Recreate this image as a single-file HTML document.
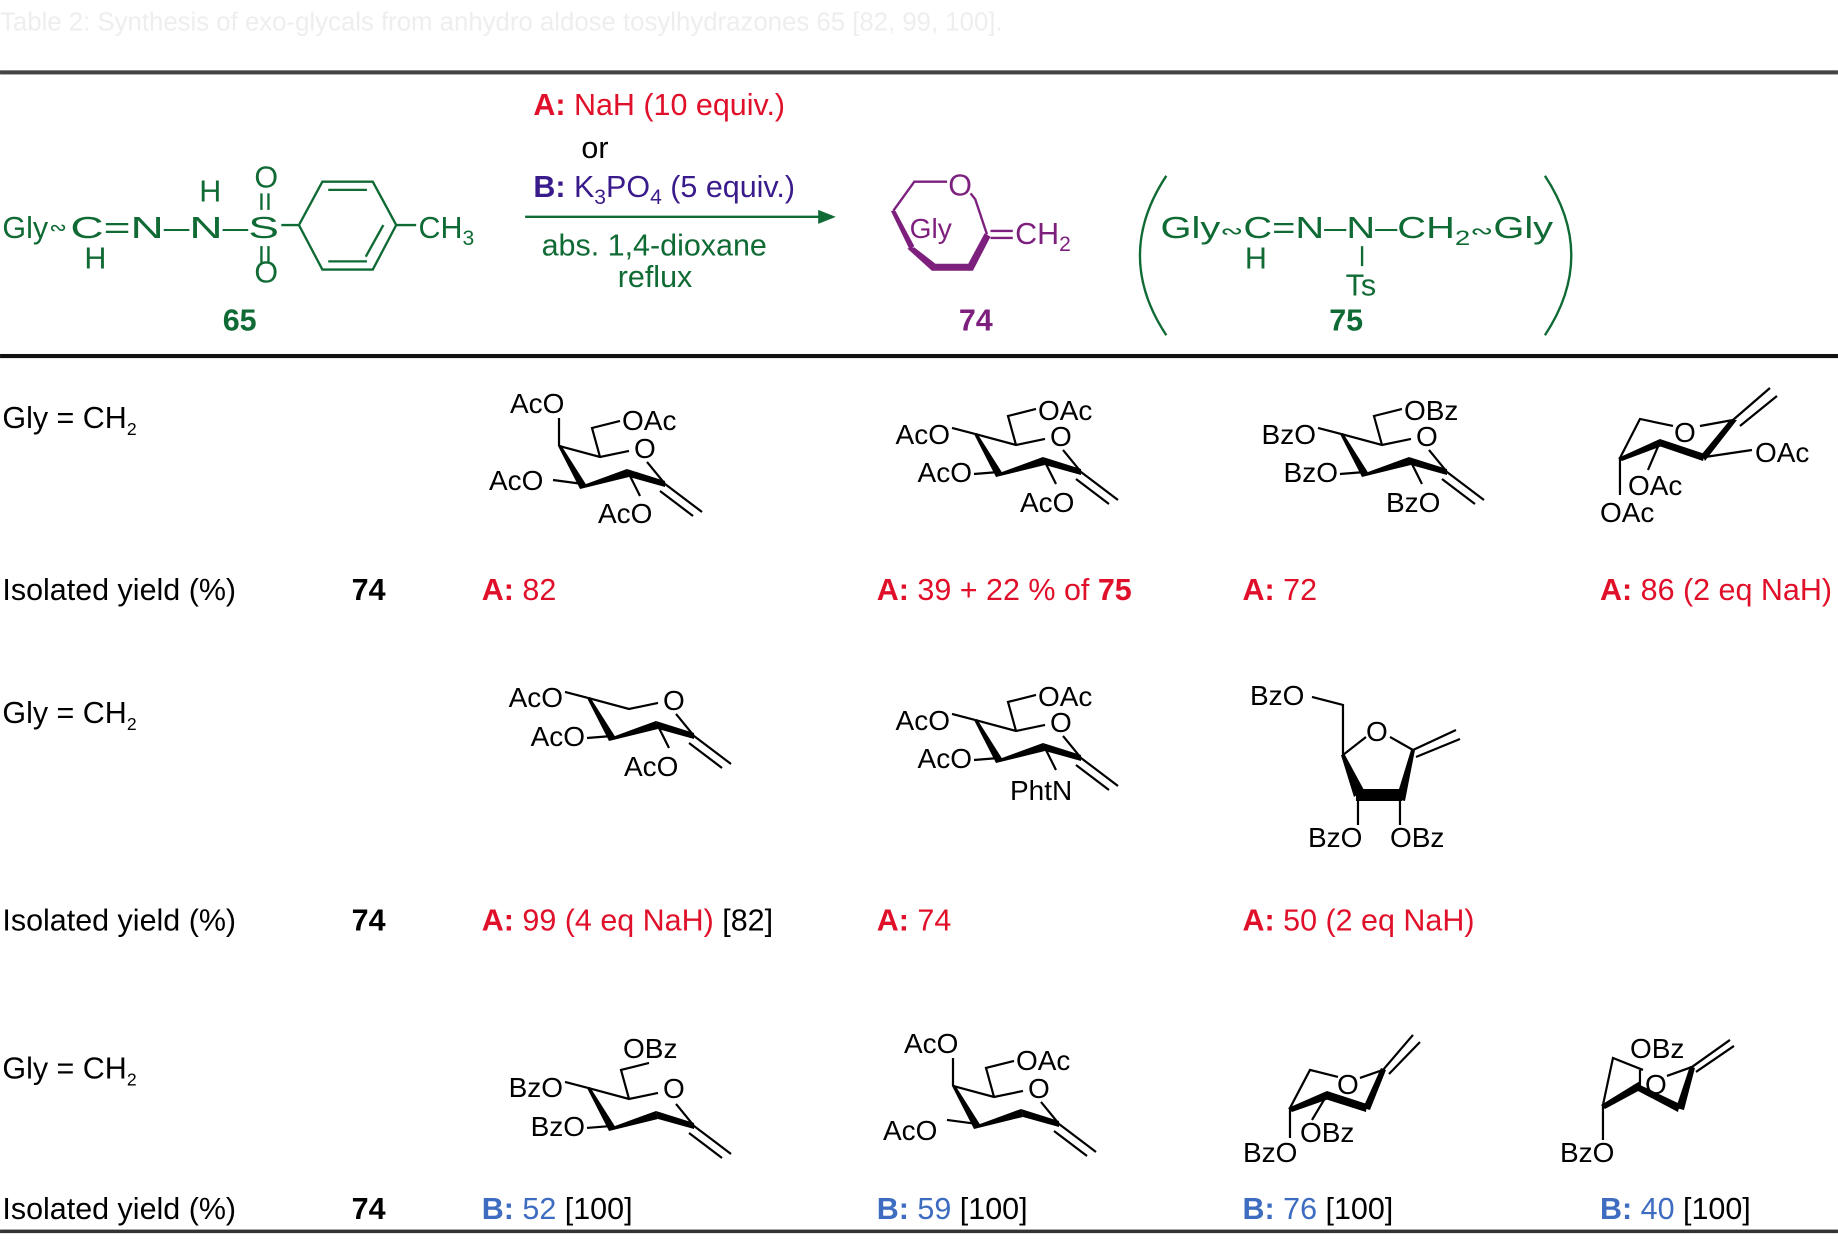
<!DOCTYPE html>
<html><head><meta charset="utf-8"><style>
body{margin:0;background:#fff}
svg{display:block}
text{font-family:"Liberation Sans",sans-serif}
.g{fill:#0f6a34}.r{fill:#e0102a}.p{fill:#3a1b8c}.m{fill:#7d1f7d}.bl{fill:#3e6cc0}
.s text{font-size:28px;fill:#000}
.t{font-size:26px;fill:#000}
</style></head><body>
<svg width="1838" height="1244" viewBox="0 0 1568 1061.3" xmlns="http://www.w3.org/2000/svg">
<defs>
<g id="chair" fill="none" stroke="#000" stroke-width="2.2">
  <path d="M0,0 L41,11 L70,5 M88,16 L106,38"/>
  <path d="M-1,0 L2,-1 L28,40 L21,43 Z" fill="#000" stroke="none"/>
  <path d="M21,43 L27,38 L68,23 L70,31 Z" fill="#000" stroke="none"/>
  <path d="M68,23 L106,35 L106,41 L70,31 Z" fill="#000" stroke="none"/>
  <path d="M106,38 L143,66 M101,45 L134,70"/>
</g>
</defs>
<text x="0" y="26" style="font-size:22px;fill:#eee">Table 2: Synthesis of exo-glycals from anhydro aldose tosylhydrazones 65 [82, 99, 100].</text>
<rect x="0" y="60" width="1568" height="3.5" fill="#444"/>
<rect x="0" y="302" width="1568" height="3.5" fill="#111"/>
<rect x="0" y="1049" width="1568" height="3" fill="#333"/>

<!-- header -->
<g style="font-size:26px">
<text x="2" y="203" class="g">Gly</text>
<text x="42" y="200" class="g" style="font-size:18px">∾</text>
<text x="60" y="203" class="g" textLength="178" lengthAdjust="spacingAndGlyphs">C=N–N–S</text>
<text x="72" y="229" class="g">H</text>
<text x="170" y="172" class="g">H</text>
<text x="217" y="160" class="g">O</text>
<text x="217" y="241" class="g">O</text>
<text x="357" y="203" class="g">CH<tspan style="font-size:18px" dy="6">3</tspan></text>
</g>
<g stroke="#0f6a34" stroke-width="2" fill="none">
<path d="M223,165 v14 M229,165 v14 M223,210 v14 M229,210 v14"/>
<path d="M240,192 H255 L275,155 H318 L338,192 L318,230 H275 L255,192 M338,192 H355"/>
<path d="M280,162 H313 M280,223 H313 M327,192 L312,219"/>
<path d="M448,185 H700"/>
</g>
<polygon points="698,179 713,185 698,191" fill="#0f6a34"/>
<text x="190" y="282" class="g" style="font-size:26px;font-weight:bold">65</text>
<text x="455" y="98" class="r" style="font-size:26px"><tspan font-weight="bold">A:</tspan> NaH (10 equiv.)</text>
<text x="496" y="135" style="font-size:26px">or</text>
<text x="455" y="168" class="p" style="font-size:26px"><tspan font-weight="bold">B:</tspan> K<tspan style="font-size:18px" dy="6">3</tspan><tspan dy="-6">PO</tspan><tspan style="font-size:18px" dy="6">4</tspan><tspan dy="-6"> (5 equiv.)</tspan></text>
<text x="462" y="218" class="g" style="font-size:26px">abs. 1,4-dioxane</text>
<text x="527" y="245" class="g" style="font-size:26px">reflux</text>
<!-- 74 -->
<g stroke="#7d1f7d" stroke-width="2" fill="none">
<path d="M808,155 H780 L762,180 M842,200 L832,170 L828,165"/>
<path d="M845,197 H864 M845,203 H864"/>
</g>
<path d="M760,180 L764,180 L780,210 L776,213 Z M774,212 L780,211 L798,225 H826 L840,199 L845,202 L830,231 H795 Z" fill="#7d1f7d"/>
<text x="809" y="167" class="m" style="font-size:26px">O</text>
<text x="776" y="203" class="m" style="font-size:24px">Gly</text>
<text x="866" y="208" class="m" style="font-size:26px">CH<tspan style="font-size:18px" dy="6">2</tspan></text>
<text x="818" y="282" class="m" style="font-size:26px;font-weight:bold">74</text>
<!-- 75 -->
<path d="M995,150 Q950,218 995,286 M1318,150 Q1363,218 1318,286" stroke="#0f6a34" stroke-width="2" fill="none"/>
<text x="990" y="203" class="g" style="font-size:26px" textLength="335" lengthAdjust="spacingAndGlyphs">Gly<tspan style="font-size:18px">∾</tspan>C=N–N–CH<tspan style="font-size:18px" dy="6">2</tspan><tspan style="font-size:18px" dy="-6">∾</tspan>Gly</text>
<text x="1062" y="229" class="g" style="font-size:26px">H</text>
<text x="1148" y="252" class="g" style="font-size:26px">Ts</text>
<path d="M1162,210 v17" stroke="#0f6a34" stroke-width="2"/>
<text x="1134" y="282" class="g" style="font-size:26px;font-weight:bold">75</text>

<!-- row labels -->
<g class="t">
<text x="2" y="365">Gly = CH<tspan style="font-size:15px" dy="6">2</tspan></text>
<text x="2" y="617">Gly = CH<tspan style="font-size:15px" dy="6">2</tspan></text>
<text x="2" y="920">Gly = CH<tspan style="font-size:15px" dy="6">2</tspan></text>
<text x="2" y="512">Isolated yield (%)</text>
<text x="2" y="794">Isolated yield (%)</text>
<text x="2" y="1040">Isolated yield (%)</text>
<text x="300" y="512" font-weight="bold">74</text>
<text x="300" y="794" font-weight="bold">74</text>
<text x="300" y="1040" font-weight="bold">74</text>
</g>
<g class="t">
<text x="411" y="512" class="r"><tspan font-weight="bold">A:</tspan> 82</text>
<text x="748" y="512" class="r"><tspan font-weight="bold">A:</tspan> 39 + 22 % of <tspan font-weight="bold">75</tspan></text>
<text x="1060" y="512" class="r"><tspan font-weight="bold">A:</tspan> 72</text>
<text x="1365" y="512" class="r"><tspan font-weight="bold">A:</tspan> 86 (2 eq NaH)</text>
<text x="411" y="794" class="r"><tspan font-weight="bold">A:</tspan> 99 (4 eq NaH) <tspan fill="#000">[82]</tspan></text>
<text x="748" y="794" class="r"><tspan font-weight="bold">A:</tspan> 74</text>
<text x="1060" y="794" class="r"><tspan font-weight="bold">A:</tspan> 50 (2 eq NaH)</text>
<text x="411" y="1040" class="bl"><tspan font-weight="bold">B:</tspan> 52 <tspan fill="#000">[100]</tspan></text>
<text x="748" y="1040" class="bl"><tspan font-weight="bold">B:</tspan> 59 <tspan fill="#000">[100]</tspan></text>
<text x="1060" y="1040" class="bl"><tspan font-weight="bold">B:</tspan> 76 <tspan fill="#000">[100]</tspan></text>
<text x="1365" y="1040" class="bl"><tspan font-weight="bold">B:</tspan> 40 <tspan fill="#000">[100]</tspan></text>
</g>

<!-- structures in 1838 coordinates -->
<g class="s" transform="scale(0.85310)">
<g stroke="#000" stroke-width="2.2" fill="none">
<!-- r1c1 galacto -->
<use href="#chair" x="559" y="446"/>
<path d="M559,446 V418 M600,457 L592,428 L620,421 M583,484 L553,480 M628,472 L640,496"/>
<!-- r1c2 gluco -->
<use href="#chair" x="975" y="434"/>
<path d="M975,434 L952,428 M999,472 L974,474 M1016,445 L1008,416 L1036,409 M1044,460 L1056,484"/>
<!-- r1c3 -->
<use href="#chair" x="1341" y="434"/>
<path d="M1341,434 L1318,428 M1365,472 L1340,474 M1382,445 L1374,416 L1402,409 M1410,460 L1422,484"/>
<!-- r2c1 -->
<use href="#chair" x="588" y="698"/>
<path d="M588,698 L565,692 M612,736 L587,738 M657,724 L669,748"/>
<!-- r2c2 -->
<use href="#chair" x="975" y="720"/>
<path d="M975,720 L952,714 M999,758 L974,760 M1016,731 L1008,702 L1036,695 M1044,746 L1056,770"/>
<!-- r3c1 -->
<use href="#chair" x="588" y="1088"/>
<path d="M588,1088 L565,1082 M612,1126 L587,1128 M629,1099 L621,1070 L649,1063"/>
<!-- r3c2 galacto -->
<use href="#chair" x="953" y="1086"/>
<path d="M953,1086 V1058 M994,1097 L986,1068 L1014,1061 M977,1124 L947,1120"/>
<!-- r1c4 -->
<path d="M1620,458 L1640,419 L1673,426 M1700,426 L1733,420 M1733,420 L1770,388 M1740,426 L1777,396 M1620,458 V495 M1660,442 L1648,470 M1705,457 L1752,450"/>
<path d="M1618,458 L1660,439 L1662,446 L1622,461 Z M1660,439 L1705,454 L1703,461 L1659,446 Z M1705,461 L1702,454 L1730,420 L1737,420 Z" fill="#000" stroke="none"/>
<!-- r2c3 furanose -->
<path d="M1312,697 L1343,705 L1343,755 L1366,737 M1390,737 L1413,750 L1456,730 M1416,757 L1460,739 M1358,795 V825 M1400,795 V825"/>
<path d="M1341,755 L1345,755 L1364,790 L1354,797 Z M1356,789 L1402,789 L1402,801 L1356,801 Z M1411,750 L1415,750 L1405,801 L1396,799 Z" fill="#000" stroke="none"/>
<!-- r3c3 -->
<path d="M1290,1108 L1310,1070 L1338,1077 M1360,1078 L1383,1070 L1413,1035 M1389,1074 L1420,1042 M1290,1108 V1138 M1327,1095 L1312,1120"/>
<path d="M1288,1108 L1327,1091 L1329,1099 L1292,1112 Z M1327,1091 L1367,1104 L1366,1112 L1325,1099 Z M1363,1108 L1381,1068 L1386,1070 L1370,1110 Z" fill="#000" stroke="none"/>
<!-- r3c4 -->
<path d="M1603,1105 L1613,1058 L1643,1070 M1667,1076 L1692,1067 L1730,1040 M1696,1072 L1734,1046 M1603,1105 V1140 M1640,1085 L1640,1070"/>
<path d="M1601,1105 L1640,1081 L1642,1089 L1605,1109 Z M1640,1085 L1680,1104 L1678,1112 L1638,1091 Z M1676,1108 L1690,1066 L1695,1068 L1684,1110 Z" fill="#000" stroke="none"/>
</g>
<!-- labels -->
<text x="510" y="413">AcO</text><text x="622" y="430">OAc</text><text x="634" y="458">O</text><text x="489" y="490">AcO</text><text x="598" y="523">AcO</text>
<text x="950" y="444" text-anchor="end">AcO</text><text x="972" y="482" text-anchor="end">AcO</text><text x="1038" y="420">OAc</text><text x="1050" y="446">O</text><text x="1020" y="512">AcO</text>
<text x="1316" y="444" text-anchor="end">BzO</text><text x="1338" y="482" text-anchor="end">BzO</text><text x="1404" y="420">OBz</text><text x="1416" y="446">O</text><text x="1386" y="512">BzO</text>
<text x="1674" y="442">O</text><text x="1755" y="462">OAc</text><text x="1628" y="495">OAc</text><text x="1600" y="522">OAc</text>
<text x="563" y="707" text-anchor="end">AcO</text><text x="585" y="746" text-anchor="end">AcO</text><text x="663" y="710">O</text><text x="624" y="776">AcO</text>
<text x="950" y="730" text-anchor="end">AcO</text><text x="972" y="768" text-anchor="end">AcO</text><text x="1038" y="706">OAc</text><text x="1050" y="732">O</text><text x="1010" y="800">PhtN</text>
<text x="1250" y="705">BzO</text><text x="1366" y="741">O</text><text x="1308" y="847">BzO</text><text x="1390" y="847">OBz</text>
<text x="563" y="1097" text-anchor="end">BzO</text><text x="585" y="1136" text-anchor="end">BzO</text><text x="623" y="1058">OBz</text><text x="663" y="1098">O</text>
<text x="904" y="1053">AcO</text><text x="1016" y="1070">OAc</text><text x="883" y="1140">AcO</text><text x="1028" y="1098">O</text>
<text x="1337" y="1094">O</text><text x="1300" y="1142">OBz</text><text x="1243" y="1162">BzO</text>
<text x="1645" y="1094">O</text><text x="1630" y="1058">OBz</text><text x="1560" y="1162">BzO</text>
</g>
</svg>
</body></html>
